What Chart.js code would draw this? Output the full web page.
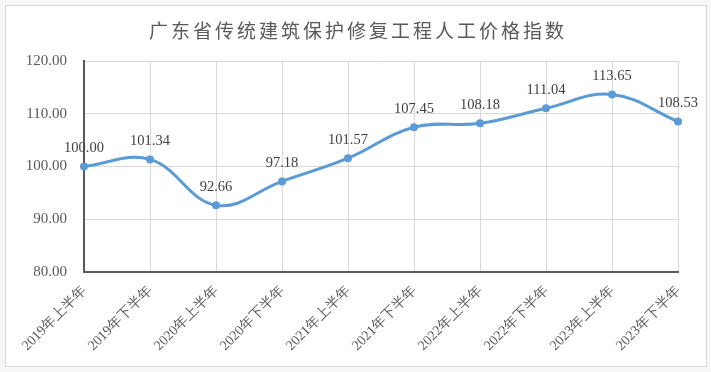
<!DOCTYPE html>
<html>
<head>
<meta charset="utf-8">
<script src="https://cdn.jsdelivr.net/npm/chart.js@4.4.1/dist/chart.umd.min.js"></script>
<style>
  html, body { margin: 0; padding: 0; background: #f7f7f7; }
  #card { position: absolute; left: 5px; top: 5px; width: 700px; height: 360px; background: #ffffff; border: 1px solid #d9d9d9; }
  #wrap { position: absolute; left: 0; top: 0; width: 711px; height: 372px; }
</style>
</head>
<body>
<div id="card"></div>
<div id="wrap"><canvas id="c" width="711" height="372"></canvas></div>
<script>
const chartTitle = '广东省传统建筑保护修复工程人工价格指数';
const categories = ['2019年上半年', '2019年下半年', '2020年上半年', '2020年下半年', '2021年上半年',
                    '2021年下半年', '2022年上半年', '2022年下半年', '2023年上半年', '2023年下半年'];
const indexValues = [100.00, 101.34, 92.66, 97.18, 101.57, 107.45, 108.18, 111.04, 113.65, 108.53];
const yTicks = [80, 90, 100, 110, 120];

const serif = '"Liberation Serif", "Times New Roman", serif';

const titlePlugin = {
  id: 'customTitle',
  afterDraw(chart) {
    const ctx = chart.ctx;
    ctx.save();
    ctx.font = '19px "Noto Sans CJK SC"';
    ctx.fillStyle = '#595959';
    ctx.textAlign = 'center';
    ctx.textBaseline = 'middle';
    try { ctx.letterSpacing = '3px'; } catch (e) {}
    ctx.fillText(chartTitle, 358, 31);
    ctx.restore();
  }
};

const labelPlugin = {
  id: 'dataLabels',
  afterDatasetsDraw(chart) {
    const ctx = chart.ctx;
    const meta = chart.getDatasetMeta(0);
    ctx.save();
    ctx.font = '14.5px ' + serif;
    ctx.fillStyle = '#404040';
    ctx.textAlign = 'center';
    ctx.textBaseline = 'middle';
    meta.data.forEach((pt, i) => {
      ctx.fillText(indexValues[i].toFixed(2), pt.x, pt.y - 18);
    });
    ctx.restore();
  }
};

new Chart(document.getElementById('c'), {
  type: 'line',
  data: {
    labels: categories,
    datasets: [{
      data: indexValues,
      borderColor: '#5B9BD5',
      backgroundColor: '#5B9BD5',
      borderWidth: 3,
      pointRadius: 4,
      pointBorderWidth: 0,
      pointBackgroundColor: '#5B9BD5',
      tension: 0.4,
      fill: false
    }]
  },
  options: {
    responsive: false,
    animation: false,
    layout: { padding: { top: 61, right: 33, left: 0, bottom: 0 } },
    plugins: { legend: { display: false }, tooltip: { enabled: false }, title: { display: false } },
    scales: {
      x: {
        offset: false,
        grid: { color: '#d9d9d9', lineWidth: 1, drawTicks: false },
        border: { color: '#595959', width: 2 },
        ticks: {
          color: '#595959',
          font: { family: serif, size: 14 },
          minRotation: 45, maxRotation: 45,
          padding: 11,
          autoSkip: false
        },
        afterFit(scale) { scale.height = 100; }
      },
      y: {
        min: 80, max: 120,
        afterBuildTicks(scale) { scale.ticks = yTicks.map(v => ({ value: v })); },
        grid: { color: '#d9d9d9', lineWidth: 1, drawTicks: false },
        border: { color: '#595959', width: 2 },
        ticks: {
          color: '#595959',
          font: { family: serif, size: 15 },
          padding: 17,
          callback: v => Number(v).toFixed(2)
        },
        afterFit(scale) { scale.width = 84; }
      }
    }
  },
  plugins: [titlePlugin, labelPlugin]
});
</script>
</body>
</html>
